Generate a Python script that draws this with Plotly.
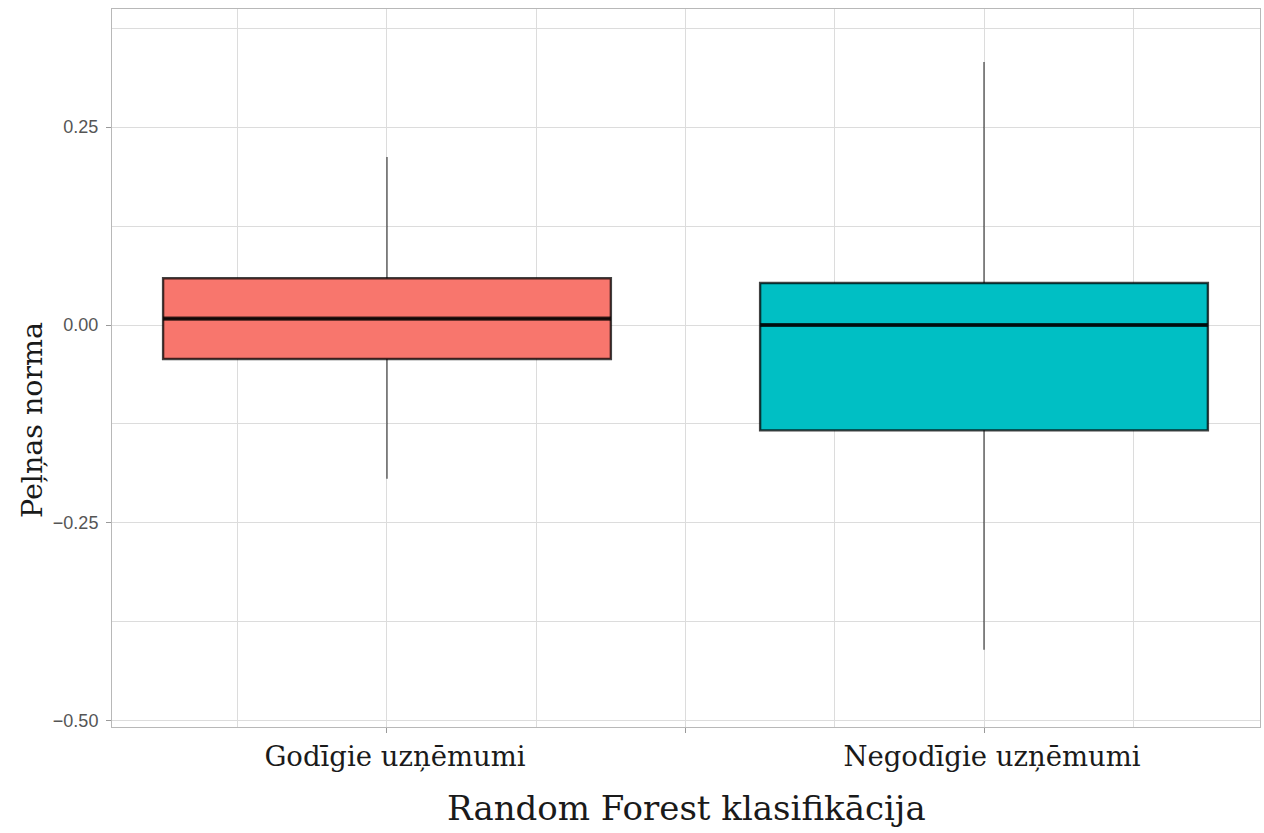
import plotly.graph_objects as go

categories = ["Godīgie uzņēmumi", "Negodīgie uzņēmumi"]
positions = [0, 1]
q1 = [-0.043, -0.133]
median = [0.008, 0.0]
q3 = [0.059, 0.053]
lower_whisker = [-0.194, -0.410]
upper_whisker = [0.212, 0.332]
fill_colors = ["#F8766D", "#00BFC4"]
y_ticks = [-0.50, -0.25, 0.00, 0.25]

BOX_W = 0.75
LINE = "rgba(0,0,0,0.74)"
SERIF = "DejaVu Serif"

fig = go.Figure()

# whiskers (drawn as segments outside the box)
for i, p in enumerate(positions):
    fig.add_trace(go.Scatter(
        x=[p, p, None, p, p],
        y=[q3[i], upper_whisker[i], None, lower_whisker[i], q1[i]],
        mode="lines", line=dict(color=LINE, width=1.2),
        hoverinfo="skip", showlegend=False))

# boxes
for i, p in enumerate(positions):
    fig.add_trace(go.Box(
        x=[p], q1=[q1[i]], median=[median[i]], q3=[q3[i]],
        lowerfence=[q1[i]], upperfence=[q3[i]],
        width=BOX_W, fillcolor=fill_colors[i],
        line=dict(color=LINE, width=2.4),
        whiskerwidth=0, boxpoints=False,
        hoverinfo="skip", showlegend=False))

# thick median lines
for i, p in enumerate(positions):
    fig.add_trace(go.Scatter(
        x=[p - BOX_W / 2, p + BOX_W / 2], y=[median[i], median[i]],
        mode="lines", line=dict(color=LINE, width=4.2),
        hoverinfo="skip", showlegend=False))

fig.update_layout(
    width=1264, height=833,
    margin=dict(l=112, r=4, t=9, b=106),
    paper_bgcolor="white", plot_bgcolor="white",
    showlegend=False,
    xaxis=dict(
        range=[-0.4606, 1.4623],
        tickmode="array", tickvals=[0, 0.5, 1],
        ticktext=[categories[0], "", categories[1]],
        tickfont=dict(family=SERIF, size=27.5, color="#1a1a1a"),
        ticklabelshift=8,
        ticks="outside", ticklen=5, tickcolor="#9a9a9a",
        showgrid=True, gridcolor="#dcdcdc", gridwidth=1,
        minor=dict(tickmode="array", tickvals=[-0.25, 0.25, 0.75, 1.25],
                   showgrid=True, gridcolor="#dcdcdc", gridwidth=1, ticklen=0),
        showline=True, linecolor="#b8b8b8", linewidth=1, mirror=True,
        zeroline=False,
    ),
    yaxis=dict(
        range=[-0.5076, 0.399],
        tickmode="array", tickvals=y_ticks,
        ticktext=[f"{v:.2f}".replace("-", "\u2212") for v in y_ticks],
        tickfont=dict(family="Liberation Sans", size=18, color="#555555"),
        ticklabelstandoff=4,
        ticks="outside", ticklen=5, tickcolor="#9a9a9a",
        showgrid=True, gridcolor="#dcdcdc", gridwidth=1,
        minor=dict(tickmode="array", tickvals=[-0.375, -0.125, 0.125, 0.375],
                   showgrid=True, gridcolor="#dcdcdc", gridwidth=1, ticklen=0),
        showline=True, linecolor="#b8b8b8", linewidth=1, mirror=True,
        zeroline=False,
    ),
    annotations=[
        dict(text="Peļņas norma", textangle=-90, xref="paper", yref="paper",
             x=0, y=0.4276, xanchor="center", yanchor="middle", xshift=-79,
             showarrow=False, font=dict(family=SERIF, size=28.5, color="#1a1a1a")),
        dict(text="Random Forest klasifikācija", xref="paper", yref="paper",
             x=0.5, y=0, xanchor="center", yanchor="middle", yshift=-81,
             showarrow=False, font=dict(family=SERIF, size=34, color="#1a1a1a")),
    ],
)

fig.write_html("out.html", config={"displayModeBar": False},
               post_script="document.body.style.margin='0';document.body.style.overflow='hidden';")
